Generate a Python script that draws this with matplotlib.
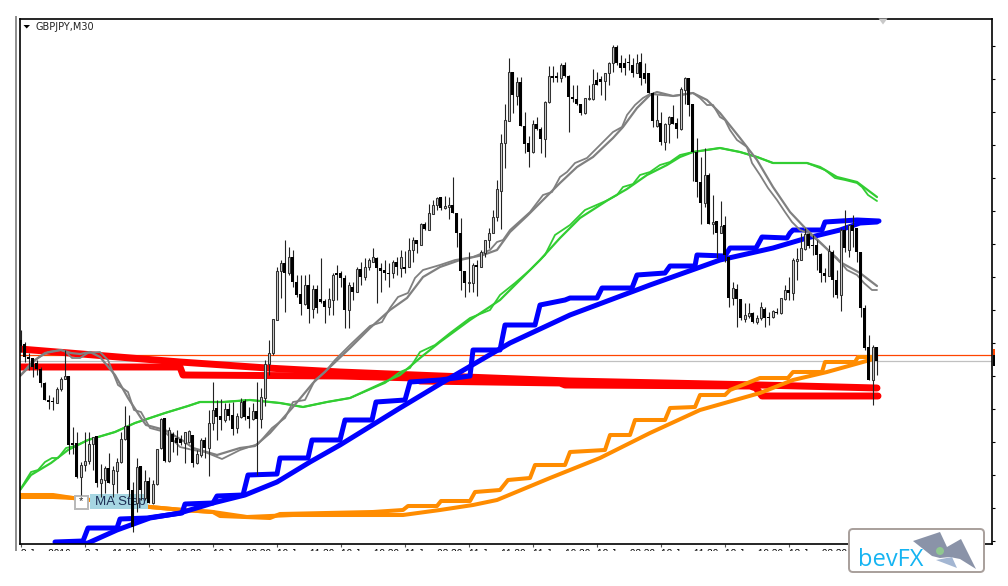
import numpy as np
import matplotlib
matplotlib.use('Agg')
import matplotlib.pyplot as plt
from matplotlib.patches import Rectangle, Polygon, Circle, FancyBboxPatch

W, H = 1008, 586

# candles in rows of the picture (smaller = higher price)
opens = [340,344,357,358,363,369,383,400,401,403, 389,379,376,443,443,477,465,461,444,436,
         483,480,468,484,471,462,439,426,490,503, 466,498,481,503,484,448,418,461,434,438,
         439,443,442,435,463,455,440,448,423,408, 416,420,409,415,428,417,401,416,419,411,
         419,398,364,353,320,271,263,273,257,282, 294,304,285,309,289,299,301,307,300,273,
         273,278,310,287,292,269,277,267,262,258, 268,270,273,273,262,268,267,267,250,240,
         245,224,230,214,205,197,208,207,205,213, 233,271,283,283,265,267,253,240,233,217,
         191,143,121,72,96,82,126,143,152,124, 129,139,102,76,76,78,65,76,97,99,
         104,113,99,99,80,79,81,73,63,47, 63,63,62,65,73,62,73,73,93,126,
         123,142,124,117,123,129,90,78,104,152, 182,203,175,224,221,233,225,257,298,289,
         299,319,316,313,322,318,309,317,317,312, 313,299,290,293,261,260,249,234,245,245,
         254,273,276,252,280,295,230,250,225,228, 252,308,347,380,347]
closes = [346,357,359,367,369,383,400,402,402,389, 379,376,445,445,477,465,461,444,437,483,
          479,468,483,470,462,439,426,490,527,467, 490,481,503,484,449,419,461,430,442,443,
          443,432,431,463,454,440,448,423,410,417, 420,409,416,429,416,402,417,419,411,419,
          397,364,353,319,271,263,273,257,282,295, 304,285,309,289,308,302,307,299,275,275,
          278,310,285,292,269,277,267,260,257,268, 271,273,274,262,267,257,269,250,240,244,
          224,229,213,205,198,208,206,205,213,233, 271,283,282,265,267,252,240,233,217,189,
          143,120,72,95,82,126,144,152,124,129, 139,102,76,78,78,65,76,97,99,104,
          113,98,98,84,85,82,73,63,47,63, 68,68,63,73,63,78,79,93,121,120,
          142,124,117,124,129,89,78,105,152,182, 203,175,224,222,233,226,255,298,288,299,
          318,315,313,322,318,307,318,318,311,313, 298,290,293,260,259,248,234,246,246,255,
          273,276,251,280,295,230,248,225,231,252, 308,348,380,347,361]
highs = [330,342,353,358,360,367,382,395,397,387, 377,350,376,427,432,462,432,432,437,436,
         464,466,453,466,458,432,406,415,482,458, 466,470,477,480,449,418,418,427,432,430,
         435,432,430,435,450,438,437,410,382,400, 399,403,403,402,413,398,399,407,403,382,
         388,360,340,319,267,260,240,247,250,275, 275,275,274,285,285,258,299,288,273,265,
         271,275,282,282,267,262,258,258,248,257, 263,260,263,260,257,250,251,238,237,240,
         223,222,204,200,197,197,196,197,177,213, 218,271,252,263,260,250,240,228,210,180,
         134,104,58,72,77,77,112,136,120,117, 127,101,66,66,72,63,62,75,85,85,
         104,98,85,69,72,76,73,62,45,45, 55,58,54,58,54,53,63,73,92,95,
         112,123,116,105,118,87,77,78,104,138, 157,148,173,195,221,201,216,257,282,284,
         299,303,303,312,315,302,307,312,310,308, 298,285,277,258,248,233,228,233,235,240,
         253,268,245,250,270,228,210,225,215,228, 252,305,335,345,347]
lows = [352,362,370,377,375,387,400,409,410,403, 391,379,454,454,478,495,471,464,470,487,
        497,493,483,497,493,463,440,497,532,512, 500,500,503,504,485,449,462,462,452,455,
        445,463,443,467,464,457,458,476,430,440, 430,422,420,435,433,418,420,428,420,475,
        428,406,375,355,320,298,312,275,287,297, 315,305,323,318,313,303,323,315,315,300,
        287,328,328,300,292,285,280,270,262,303, 292,280,287,278,275,277,273,263,262,253,
        245,230,230,213,210,210,209,219,213,247, 290,297,292,292,296,267,257,248,233,221,
        229,168,121,113,105,126,153,167,153,130, 153,157,103,82,82,82,77,132,102,105,
        115,114,100,100,85,95,100,85,72,65, 72,75,70,77,73,85,83,93,127,127,
        145,150,143,124,138,130,104,116,181,197, 224,207,224,234,258,233,262,307,305,327,
        320,322,318,323,324,320,327,325,318,314, 314,300,300,300,280,260,250,248,255,270,
        282,282,276,297,298,311,252,257,247,262, 317,350,380,405,375]

gray_x = [20,28,35,45,61,71,80,90,100,115,128,141,146,165,185,193,217,240,255,270,293,313,330,350,370,390,407,423,440,460,483,497,510,527,543,560,577,593,613,623,637,650,657,673,680,693,707,720,740,757,773,790,807,823,840,860,877]
gray_y = [376,368,360,353,350,353,354,352,357,375,398,418,425,430,442,448,455,448,446,433,407,383,367,348,328,310,298,277,267,260,255,250,232,216,200,183,167,157,138,127,108,95,92,96,95,93,100,113,138,160,187,212,230,245,262,273,286]
gray_step_x = [20,30,38,48,61,66,72,80,88,100,108,118,128,134,141,150,165,180,193,205,222,240,258,272,285,293,305,315,325,335,350,370,382,390,398,408,415,423,440,455,473,490,497,503,510,530,543,552,560,567,575,587,595,607,613,622,627,635,643,650,673,693,700,707,713,720,725,730,737,747,752,760,768,777,785,792,800,808,817,828,837,847,857,864,872,877]
gray_step_y = [376,364,358,352,350,352,358,358,353,352,360,385,392,410,412,428,432,447,450,452,459,450,444,428,418,402,400,380,372,360,345,326,322,308,297,293,278,270,265,260,257,250,242,240,230,212,195,192,177,172,163,158,150,138,132,127,115,105,98,94,96,93,98,105,105,117,120,130,140,147,163,175,188,200,212,222,230,233,240,250,258,270,275,283,290,290]

green_x = [20,31,51,68,88,115,135,165,188,200,223,250,280,303,327,350,400,420,440,470,500,520,540,560,580,608,627,647,667,680,693,720,740,757,773,807,820,837,857,877]
green_y = [490,475,463,450,440,432,423,413,406,402,402,400,403,407,402,398,375,358,342,320,300,280,260,238,218,200,189,175,165,157,152,148,152,157,163,163,167,177,182,197]
green_step_x = [20,26,31,38,45,52,58,66,75,88,115,135,165,188,200,223,250,280,303,327,350,385,400,410,420,435,450,470,490,500,515,530,545,555,570,585,608,617,623,633,640,650,660,670,680,693,720,740,757,773,807,825,835,845,857,862,868,877]
green_step_y = [490,480,472,470,462,458,458,448,446,440,432,423,413,406,402,402,400,403,407,402,398,383,372,368,352,345,333,318,310,295,283,270,255,235,225,210,200,195,187,184,175,172,165,162,155,152,148,152,157,163,163,170,178,180,183,187,195,201]

blue_x = [55,88,117,150,180,213,245,277,310,340,400,450,510,570,650,720,773,807,840,860,877]
blue_y = [548,543,530,518,513,503,495,482,462,445,408,378,343,315,285,260,248,238,230,223,222]
blue_step_x = [55,83,88,117,120,147,182,185,213,217,243,248,277,280,308,312,340,345,372,376,405,410,440,470,473,500,505,535,540,565,570,597,602,632,637,665,670,695,697,725,730,756,762,787,790,793,822,825,857,879]
blue_step_y = [542,541,528,528,519,518,513,504,503,496,495,475,474,458,458,440,440,420,420,402,400,382,380,376,350,350,325,325,305,300,298,298,288,288,275,273,266,266,255,256,248,248,237,238,233,230,230,222,220,221]

orange_x = [20,53,73,150,183,213,247,293,340,403,440,473,497,550,600,650,700,760,793,827,870,876]
orange_y = [497,497,498,507,510,512,517,515,515,515,510,505,500,478,458,433,410,393,380,372,360,358]
orange_step_x = [20,53,73,150,183,213,220,270,280,373,403,408,437,441,470,475,500,508,530,535,565,570,605,610,630,635,665,670,695,700,725,730,760,788,793,822,825,855,858,875]
orange_step_y = [495,495,498,507,510,512,516,518,514,512,510,506,506,501,501,492,490,480,478,465,465,452,450,435,435,420,420,408,407,395,395,390,378,378,372,372,362,362,357,357]

red_x = [20,180,267,340,440,570,760,877]
red_y = [349,362,368,372,376,381,385,388]
red_step_x = [20,180,183,340,415,420,560,565,750,756,762,878]
red_step_y = [367,367,375,376,378,381,383,385,386,388,396,396]

ask_level = 354.5
bid_level = 360.5
price_ticks = [46,79,112,145,178,211,244,277,310,343,376,409,442,475,508,541]
time_ticks = [21,85,149,213,277,341,405,469,533,597,661,725,789,853]
# the tick at 853 has no label, the logo covers that spot
time_labels = ['8 Jan 2016','9 Jan 11:30','9 Jan 19:30','10 Jan 03:30','10 Jan 11:30','10 Jan 19:30','11 Jan 03:30','11 Jan 11:30','11 Jan 19:30','12 Jan 03:30','12 Jan 11:30','12 Jan 19:30','13 Jan 03:30']

fig = plt.figure(figsize=(W / 100, H / 100), dpi=100)
ax = fig.add_axes([19.5 / W, 1 - 544 / H, (991.5 - 19.5) / W, (544 - 18.5) / H])
ax.set_xlim(19.5, 991.5)
ax.set_ylim(544, 18.5)

ax.axhline(ask_level, color='#ff4500', lw=0.9, zorder=1)
ax.axhline(bid_level, color='#c0c0c0', lw=0.9, zorder=1)

# moving averages, each as a smooth line and a stepped one
for xs, ys, col, lw in [(red_x, red_y, '#ff0000', 5.0), (red_step_x, red_step_y, '#ff0000', 5.0),
                        (orange_x, orange_y, '#ff8c00', 2.9), (orange_step_x, orange_step_y, '#ff8c00', 2.9),
                        (blue_x, blue_y, '#0000ff', 3.6), (blue_step_x, blue_step_y, '#0000ff', 3.6),
                        (green_x, green_y, '#32cd32', 1.6), (green_step_x, green_step_y, '#32cd32', 1.3),
                        (gray_x, gray_y, '#808080', 1.6), (gray_step_x, gray_step_y, '#808080', 1.3)]:
    ax.plot(xs, ys, color=col, lw=lw, solid_capstyle='round', solid_joinstyle='round', zorder=2)

# candles
candle_x = 20.7 + 4 * np.arange(len(opens))
o = np.array(opens)
c = np.array(closes)
up = c < o
ax.vlines(candle_x, highs, lows, color='#222222', lw=0.8, zorder=4)
ax.bar(candle_x[~up], (c - o)[~up], bottom=o[~up], width=3, color='#000000', lw=0, zorder=5)
ax.bar(candle_x[up], (o - c)[up], bottom=c[up], width=2.4, facecolor='#cccccc',
       edgecolor='#333333', lw=0.75, zorder=5)

for s in ['top', 'right', 'bottom', 'left']:
    ax.spines[s].set_linewidth(1.2)
ax.yaxis.tick_right()
ax.set_yticks(price_ticks)
ax.set_xticks(time_ticks)
ax.tick_params(axis='y', length=2.5, width=0.8, labelright=False)
ax.tick_params(axis='x', length=2.5, width=0.8, color='#555555', labelbottom=False)

# everything else is drawn in picture pixels on a see-through layer
top = fig.add_axes([0, 0, 1, 1], facecolor='none')
top.set_xlim(0, W)
top.set_ylim(H, 0)
top.axis('off')

top.add_patch(Rectangle((15, 16), 2, 535, color='#909090', lw=0))
top.add_patch(Polygon([(23.5, 25), (30, 25), (26.7, 28.5)], color='black', lw=0))
top.text(35, 26.5, 'GBPJPY,M30', fontsize=7, family='DejaVu Sans', va='center', color='#222222')
top.add_patch(Polygon([(878.5, 18.5), (887.5, 18.5), (883, 24.5)], color='#c8c8c8', lw=0))

# only the top edge of the time labels shows in the picture
strip = Rectangle((18, 549), 830, 2.2, transform=top.transData, fc='none', ec='none')
top.add_patch(strip)
for x, label in zip(time_ticks, time_labels):
    t = top.text(x, 549, label, fontsize=7.2, family='Liberation Sans', va='top', color='black')
    t.set_clip_on(True)
    t.set_clip_path(strip)

# price marker on the right edge
top.add_patch(Rectangle((993, 349), 2, 6, color='#ff4500', lw=0))
top.add_patch(Rectangle((993, 355), 2, 11, color='black', lw=0))

# MA Step button, sits under the candles
ax.add_patch(Rectangle((90, 494), 58, 15, color='#a6d6e2', lw=0, zorder=3))
ax.add_patch(Rectangle((75, 495.5), 13, 13, fc='white', ec='#b8b8b8', lw=1.4, zorder=3))
ax.text(80.5, 501, '*', fontsize=8, family='Liberation Sans', ha='center', va='center', color='#222222', zorder=3)
ax.text(95, 502.5, 'MA Step', fontsize=9.6, family='Liberation Sans', va='center', color='#1d2f55', zorder=3)

# bevFX logo
top.add_patch(FancyBboxPatch((851, 531), 131, 39, boxstyle='round,pad=2,rounding_size=4',
                             fc='white', ec='#a89f9b', lw=1.4))
top.text(858.5, 566.5, 'bevFX', fontsize=17, family='Open Sans', color='#15b4f2', va='baseline')
top.add_patch(Polygon([(913, 541), (940, 532), (947, 547), (961, 539), (976, 569), (960, 559), (950, 557), (940, 558), (932, 556)],
                      color='#8a93a8', lw=0))
top.add_patch(Polygon([(936, 560), (952, 557), (957, 568)], color='#a3b6d2', lw=0))
top.add_patch(Circle((940, 551), 4, color='#90c890', lw=0))

fig.savefig('out.png', dpi=100)
